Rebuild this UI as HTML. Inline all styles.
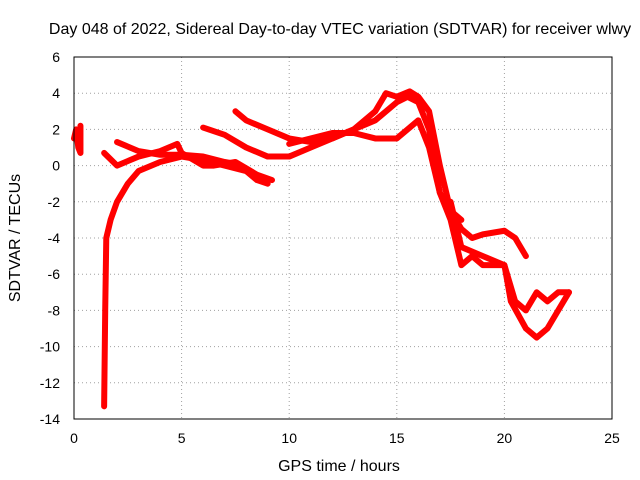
<!DOCTYPE html>
<html><head><meta charset="utf-8"><style>
body{margin:0;background:#fff}
svg{display:block;font-family:"Liberation Sans",sans-serif}
</style></head><body>
<svg id="chart" width="640" height="480" viewBox="0 0 640 480">
<rect width="640" height="480" fill="#fff"/>
<text x="340" y="34" font-size="16" text-anchor="middle">Day 048 of 2022, Sidereal Day-to-day VTEC variation (SDTVAR) for receiver wlwy</text>
<text x="339" y="471" font-size="16" text-anchor="middle">GPS time / hours</text>
<text transform="translate(20,238) rotate(-90)" font-size="16" text-anchor="middle">SDTVAR / TECUs</text>
<g id="grid"></g>
<g id="ticks"></g>
<g id="series"></g>
<rect x="74" y="57" width="538" height="362" fill="none" stroke="#000" stroke-width="1"/>
</svg>
<script>
const xTicks=[0,5,10,15,20,25];
const yTicks=[6,4,2,0,-2,-4,-6,-8,-10,-12,-14];
const traceA=[[0,1.5],[0.1,2],[0.2,1],[0.3,0.7],[0.3,2.2]];
const traceB=[[1.4,-13.3],[1.45,-8],[1.5,-4],[1.7,-3],[2,-2],[2.5,-1],[3,-0.3],[4,0.2],[5,0.5],[6,0.3],[7,0],[8,-0.3],[8.5,-0.8],[9,-1]];
const traceC=[[1.4,0.7],[2,0],[3,0.5],[4,0.8],[4.8,1.2],[5,0.7],[6,0],[6.5,0],[7.5,0.2],[8.5,-0.5],[9.2,-0.8]];
const traceD=[[2,1.3],[3,0.8],[4,0.6],[5,0.6],[6,0.5],[7,0.2],[7.5,0.1]];
const traceE=[[6,2.1],[7,1.7],[8,1],[9,0.5],[10,0.5],[11,1],[12,1.5],[13,2],[14,2.5],[15,3.5],[15.5,3.8],[16,3.5],[16.5,2],[17,-1.5],[17.5,-2.5],[18,-3]];
const traceF=[[7.5,3],[8,2.5],[9,2],[10,1.5],[11,1.3],[12,1.5],[13,2],[14,3],[14.5,4],[15,3.8],[15.6,4.1],[16,3.8],[16.5,3],[17,0],[17.5,-2.5],[18,-3.5],[18.5,-4],[19,-3.8],[20,-3.6],[20.5,-4],[21,-5]];
const traceG=[[10,1.2],[12,1.8],[13,1.8],[14,1.5],[15,1.5],[16,2.5],[16.5,1],[17,-1.5],[17.5,-3],[18,-5.5],[18.5,-5],[19,-5.5],[20,-5.5],[20.5,-7.5],[21,-8],[21.5,-7],[22,-7.5],[22.5,-7],[23,-7]];
const traceH=[[17.5,-2],[18,-4.5],[19,-5],[20,-5.5],[20.3,-7.5],[21,-9],[21.5,-9.5],[22,-9],[22.5,-8],[23,-7]];
const traces=[traceA,traceB,traceC,traceD,traceE,traceF,traceG,traceH];
const X=v=>74+v/25*538, Y=v=>57+(6-v)/20*362;
const NS="http://www.w3.org/2000/svg";
const grid=document.getElementById('grid'),ticks=document.getElementById('ticks'),ser=document.getElementById('series');
xTicks.forEach(t=>{
 if(t>0&&t<25){const l=document.createElementNS(NS,'line');
 
 
 l.setAttribute('x1',X(t));l.setAttribute('x2',X(t));l.setAttribute('y1',57);l.setAttribute('y2',419);
 l.setAttribute('stroke','#a0a0a0');l.setAttribute('stroke-dasharray','1,3');grid.appendChild(l);}
 const tx=document.createElementNS(NS,'text');
 
 
 tx.setAttribute('x',X(t));tx.setAttribute('y',443);tx.setAttribute('font-size','14');tx.setAttribute('text-anchor','middle');tx.textContent=t;ticks.appendChild(tx);
});
yTicks.forEach(t=>{
 if(t<6&&t>-14){const l=document.createElementNS(NS,'line');
 
 
 l.setAttribute('x1',74);l.setAttribute('x2',612);l.setAttribute('y1',Y(t));l.setAttribute('y2',Y(t));
 l.setAttribute('stroke','#a0a0a0');l.setAttribute('stroke-dasharray','1,3');grid.appendChild(l);}
 const tx=document.createElementNS(NS,'text');
 
 
 tx.setAttribute('x',60);tx.setAttribute('y',Y(t)+5);tx.setAttribute('font-size','14');tx.setAttribute('text-anchor','end');tx.textContent=t;ticks.appendChild(tx);
});
traces.forEach(tr=>{
 const p=document.createElementNS(NS,'polyline');
 
 
 p.setAttribute('points',tr.map(d=>X(d[0])+','+Y(d[1])).join(' '));
 p.setAttribute('fill','none');p.setAttribute('stroke','#f00');p.setAttribute('stroke-width','6');p.setAttribute('stroke-linejoin','round');p.setAttribute('stroke-linecap','round');
 ser.appendChild(p);
});
</script>
</body></html>
